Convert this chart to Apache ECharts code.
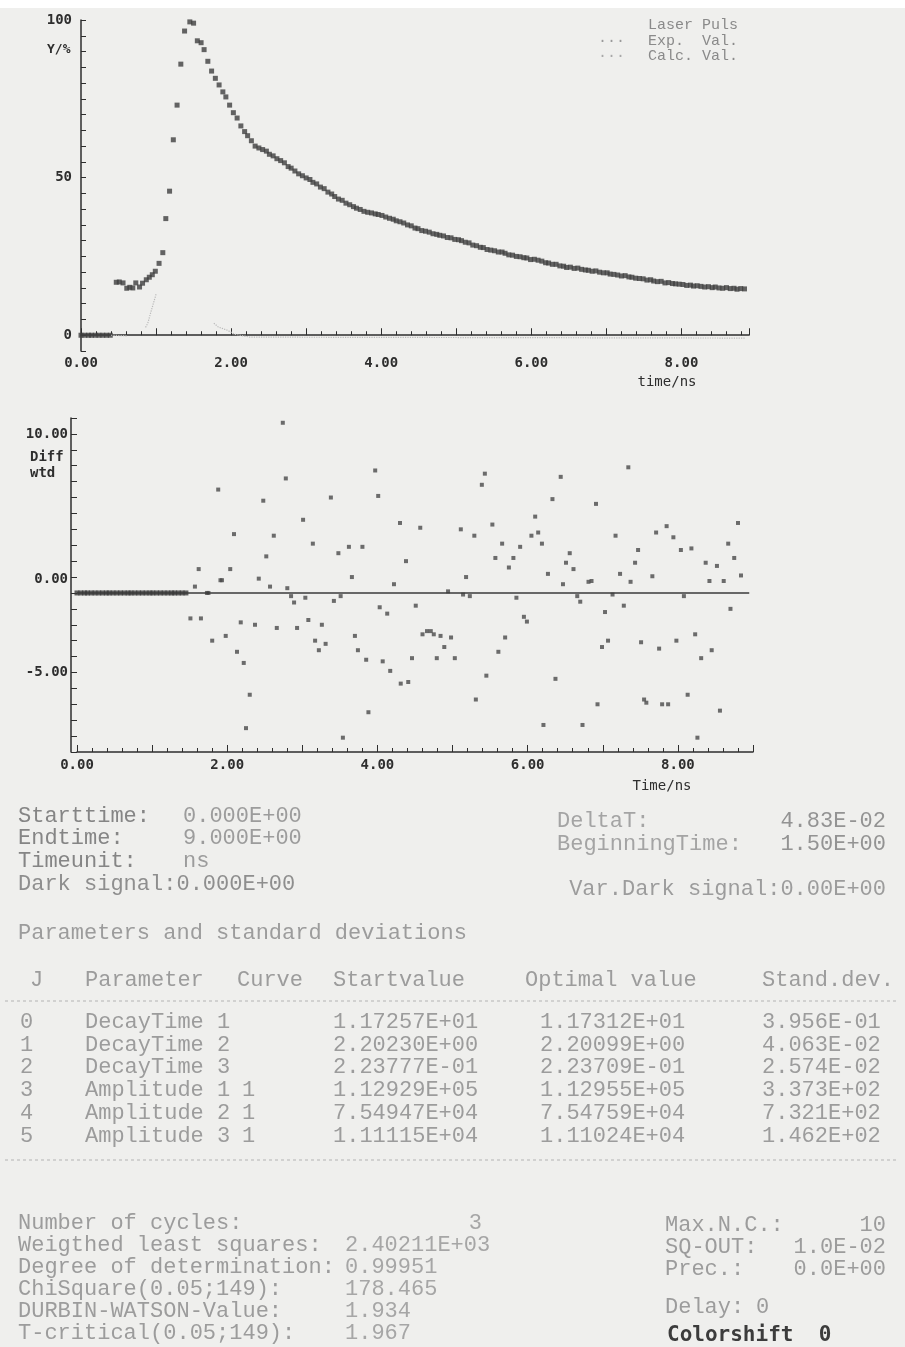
<!DOCTYPE html>
<html>
<head>
<meta charset="utf-8">
<title>Fluorescence decay fit</title>
<script src="https://cdn.jsdelivr.net/npm/echarts@6/dist/echarts.min.js"></script>
<style>
  html, body { margin: 0; padding: 0; background: #efefed; }
  #main { width: 905px; height: 1347px; }
</style>
</head>
<body>
<div id="main"></div>
<script>
// ---- data (time in ns) ----
const expBaseTime = [0.00, 0.05, 0.10, 0.14, 0.19, 0.24, 0.29, 0.34, 0.39];
const expRise = [
  [0.47, 16.8], [0.51, 16.9], [0.56, 16.6], [0.61, 14.9], [0.65, 15.2], [0.69, 15.0],
  [0.73, 16.6], [0.78, 15.3], [0.82, 16.5], [0.87, 17.6], [0.91, 18.4], [0.95, 19.2],
  [0.99, 20.3], [1.04, 22.8], [1.09, 26.2], [1.13, 37.0], [1.18, 45.7], [1.23, 62.0],
  [1.28, 73.0], [1.33, 86.0], [1.38, 96.5], [1.45, 99.4]
];
const expDecay = [
  [1.50, 99.0], [1.55, 93.4], [1.60, 92.8], [1.64, 90.6], [1.69, 86.9], [1.74, 83.8],
  [1.79, 81.5], [1.84, 79.4], [1.89, 77.2], [1.93, 75.6], [1.98, 73.0], [2.03, 70.6],
  [2.08, 68.9], [2.13, 66.4], [2.18, 64.6], [2.22, 63.3], [2.27, 61.7], [2.32, 60.0],
  [2.37, 59.4], [2.42, 58.9], [2.47, 58.4], [2.51, 57.4], [2.56, 56.9], [2.61, 56.0],
  [2.66, 55.4], [2.71, 54.7], [2.76, 53.5], [2.80, 53.0], [2.85, 52.1], [2.90, 51.2],
  [2.95, 50.6], [3.00, 49.9], [3.05, 49.4], [3.09, 48.5], [3.14, 48.0], [3.19, 47.0],
  [3.24, 46.5], [3.29, 45.4], [3.34, 44.8], [3.38, 44.0], [3.43, 43.2], [3.48, 42.8],
  [3.53, 41.9], [3.58, 41.4], [3.63, 40.8], [3.67, 40.3], [3.72, 39.9], [3.77, 39.3],
  [3.82, 39.0], [3.87, 38.8], [3.92, 38.5], [3.96, 38.3], [4.01, 38.0], [4.06, 37.5],
  [4.11, 37.1], [4.16, 36.8], [4.20, 36.3], [4.25, 36.0], [4.30, 35.6], [4.35, 35.0],
  [4.40, 34.7], [4.45, 34.0], [4.49, 33.8], [4.54, 33.2], [4.59, 33.0], [4.64, 32.7],
  [4.69, 32.2], [4.74, 32.0], [4.78, 31.7], [4.83, 31.5], [4.88, 31.0], [4.93, 30.9],
  [4.98, 30.4], [5.03, 30.3], [5.07, 30.0], [5.12, 29.5], [5.17, 29.3], [5.22, 28.6],
  [5.27, 28.4], [5.32, 27.9], [5.36, 27.8], [5.41, 27.2], [5.46, 27.0], [5.51, 26.8],
  [5.56, 26.4], [5.61, 26.4], [5.65, 26.0], [5.70, 25.5], [5.75, 25.4], [5.80, 25.0],
  [5.85, 24.9], [5.90, 24.6], [5.94, 24.5], [5.99, 24.0], [6.04, 24.1], [6.09, 23.8],
  [6.14, 23.5], [6.19, 23.0], [6.23, 22.9], [6.28, 22.5], [6.33, 22.5], [6.38, 22.0],
  [6.43, 21.9], [6.47, 21.5], [6.52, 21.6], [6.57, 21.2], [6.62, 21.3], [6.67, 20.9],
  [6.72, 20.7], [6.76, 20.6], [6.81, 20.3], [6.86, 20.4], [6.91, 20.0], [6.96, 19.8],
  [7.01, 19.8], [7.05, 19.4], [7.10, 19.3], [7.15, 19.1], [7.20, 18.8], [7.25, 18.9],
  [7.30, 18.5], [7.34, 18.4], [7.39, 18.1], [7.44, 18.0], [7.49, 17.9], [7.54, 17.5],
  [7.59, 17.6], [7.63, 17.2], [7.68, 17.0], [7.73, 17.1], [7.78, 16.6], [7.83, 16.7],
  [7.88, 16.4], [7.92, 16.3], [7.97, 16.2], [8.02, 16.1], [8.07, 15.8], [8.12, 15.9],
  [8.16, 15.6], [8.21, 15.7], [8.26, 15.5], [8.31, 15.3], [8.36, 15.4], [8.41, 15.1],
  [8.45, 15.3], [8.50, 15.0], [8.55, 14.9], [8.60, 15.1], [8.65, 14.8], [8.70, 14.9],
  [8.74, 14.6], [8.79, 14.8], [8.84, 14.7]
];
// faint laser pulse trace, '-' breaks the dotted line
const laserPuls = [
  [0.40, 0.0], [0.62, -0.2], [0.70, '-'],
  [0.86, 2.5], [0.89, 3.8], [0.93, 7.3], [1.00, 13.0], [1.40, '-'],
  [1.77, 3.8], [1.83, 2.6], [1.95, 1.6], [2.05, 0.3], [2.25, -0.6], [8.85, -0.9]
];

const residualBaseTime = [
  0.00, 0.05, 0.10, 0.14, 0.19, 0.24, 0.29, 0.34, 0.39, 0.43, 0.48, 0.53, 0.58, 0.63, 0.68, 0.72,
  0.77, 0.82, 0.87, 0.92, 0.97, 1.01, 1.06, 1.11, 1.16, 1.21, 1.26, 1.30, 1.35, 1.40, 1.45
];
const residuals = [
  [1.51, -1.6], [1.57, 0.4], [1.62, 1.5], [1.65, -1.6], [1.73, 0.0], [1.75, 0.0], [1.80, -3.0],
  [1.88, 6.5], [1.91, 0.8], [1.93, 0.8], [1.98, -2.7], [2.04, 1.5], [2.09, 3.7], [2.13, -3.7],
  [2.18, -1.85], [2.22, -4.4], [2.25, -8.5], [2.30, -6.4], [2.37, -2.0], [2.42, 0.9], [2.48, 5.8],
  [2.52, 2.3], [2.57, 0.4], [2.62, 3.6], [2.66, -2.2], [2.74, 10.7], [2.78, 7.2], [2.80, 0.3],
  [2.85, -0.2], [2.89, -0.6], [2.93, -2.2], [3.01, 4.6], [3.04, -0.3], [3.08, -1.7], [3.14, 3.1],
  [3.17, -3.0], [3.22, -3.6], [3.26, -2.0], [3.31, -3.2], [3.38, 6.0], [3.42, -0.5], [3.48, 2.5],
  [3.51, -0.2], [3.54, -9.1], [3.62, 2.9], [3.66, 1.0], [3.70, -2.7], [3.74, -3.6], [3.80, 2.9],
  [3.85, -4.2], [3.88, -7.5], [3.97, 7.7], [4.01, 6.1], [4.03, -0.9], [4.07, -4.3], [4.13, -1.3],
  [4.17, -4.9], [4.22, 0.55], [4.30, 4.4], [4.31, -5.7], [4.38, 2.0], [4.41, -5.6], [4.46, -4.1],
  [4.51, -0.8], [4.57, 4.1], [4.60, -2.6], [4.66, -2.4], [4.71, -2.4], [4.75, -2.6], [4.79, -4.1],
  [4.84, -2.7], [4.89, -3.4], [4.94, 0.1], [4.98, -2.8], [5.03, -4.1], [5.11, 4.0], [5.14, -0.1],
  [5.18, 1.0], [5.23, -0.2], [5.29, 3.6], [5.31, -6.7], [5.39, 6.8], [5.43, 7.5], [5.45, -5.2],
  [5.53, 4.3], [5.57, 2.2], [5.61, -3.7], [5.66, 3.1], [5.70, -2.8], [5.75, 1.6], [5.81, 2.2],
  [5.85, -0.3], [5.90, 2.9], [5.95, -1.5], [5.99, -1.8], [6.05, 3.6], [6.10, 4.8], [6.14, 3.8],
  [6.19, 3.1], [6.21, -8.3], [6.27, 1.2], [6.33, 5.9], [6.37, -5.4], [6.44, 7.3], [6.47, 0.55],
  [6.51, 1.9], [6.56, 2.5], [6.61, 1.5], [6.66, -0.2], [6.70, -0.55], [6.73, -8.3], [6.81, 0.7],
  [6.85, 0.75], [6.91, 5.6], [6.93, -7.0], [6.99, -3.4], [7.03, -1.2], [7.07, -3.0], [7.13, -0.1],
  [7.17, 3.6], [7.23, 1.2], [7.28, -0.8], [7.34, 7.9], [7.37, 0.7], [7.43, 1.9], [7.47, 2.7],
  [7.51, -3.1], [7.55, -6.7], [7.58, -6.9], [7.66, 1.05], [7.71, 3.8], [7.75, -3.5], [7.79, -7.0],
  [7.85, 4.2], [7.87, -7.0], [7.94, 3.5], [7.98, -3.0], [8.04, 2.7], [8.08, -0.2], [8.13, -6.4],
  [8.18, 2.8], [8.23, -2.6], [8.26, -9.1], [8.31, -4.1], [8.37, 1.9], [8.42, 0.75], [8.45, -3.6],
  [8.52, 1.7], [8.56, -7.4], [8.61, 0.75], [8.67, 3.1], [8.70, -1.0], [8.75, 2.2], [8.80, 4.4],
  [8.84, 1.1]
];

// ---- printout text ----
const runInfoLeft = [['Starttime:', '0.000E+00'], ['Endtime:', '9.000E+00'], ['Timeunit:', 'ns']];
const runInfoRight = [['DeltaT:', '4.83E-02'], ['BeginningTime:', '1.50E+00']];
const paramHeader = ['J', 'Parameter', 'Curve', 'Startvalue', 'Optimal value', 'Stand.dev.'];
const paramRows = [
  ['0', 'DecayTime 1', '', '1.17257E+01', '1.17312E+01', '3.956E-01'],
  ['1', 'DecayTime 2', '', '2.20230E+00', '2.20099E+00', '4.063E-02'],
  ['2', 'DecayTime 3', '', '2.23777E-01', '2.23709E-01', '2.574E-02'],
  ['3', 'Amplitude 1', '1', '1.12929E+05', '1.12955E+05', '3.373E+02'],
  ['4', 'Amplitude 2', '1', '7.54947E+04', '7.54759E+04', '7.321E+02'],
  ['5', 'Amplitude 3', '1', '1.11115E+04', '1.11024E+04', '1.462E+02']
];
const fitStats = [
  ['Number of cycles:', ''],
  ['Weigthed least squares:', '2.40211E+03'],
  ['Degree of determination:', '0.99951'],
  ['ChiSquare(0.05;149):', '178.465'],
  ['DURBIN-WATSON-Value:', '1.934'],
  ['T-critical(0.05;149):', '1.967']
];
const fitSettings = [['Max.N.C.:', '10'], ['SQ-OUT:', '1.0E-02'], ['Prec.:', '0.0E+00']];

var chartDom = document.getElementById('main');
var myChart = echarts.init(chartDom);
var option;

const AXIS = '#2e2e2e';
const PRINT = '#9c9c9c';
const plotFont = 'bold 14px "DejaVu Sans Mono"';
const printFont = '22px "Liberation Mono"';

function txt(str, x, y, font, fill, align) {
  return {
    type: 'text', x: x, y: y, silent: true,
    style: { text: str, font: font || printFont, fill: fill || PRINT, align: align || 'left', verticalAlign: 'middle' }
  };
}

const labelStyle = { color: AXIS, fontFamily: 'DejaVu Sans Mono', fontWeight: 'bold', fontSize: 14 };

var graphic = [
  { type: 'rect', shape: { x: 0, y: 0, width: 905, height: 8 }, style: { fill: '#ffffff' }, silent: true },
  // legend
  txt('Laser Puls', 648, 25, '15px "Liberation Mono"', '#8a8a8a'),
  txt('Exp.  Val.', 648, 41, '15px "Liberation Mono"', '#8a8a8a'),
  txt('Calc. Val.', 648, 56, '15px "Liberation Mono"', '#8a8a8a'),
  txt('...', 598, 38, '15px "Liberation Mono"', '#9a9a9a'),
  txt('...', 598, 53, '15px "Liberation Mono"', '#a8a8a8'),
  // axis names
  txt('Y/%', 47, 50, 'bold 13px "DejaVu Sans Mono"', AXIS),
  txt('time/ns', 667, 382, '14px "DejaVu Sans Mono"', AXIS, 'center'),
  txt('Diff', 30, 457, plotFont, AXIS),
  txt('wtd', 30, 473, plotFont, AXIS),
  txt('Time/ns', 662, 786, '14px "DejaVu Sans Mono"', AXIS, 'center'),
  // separators
  { type: 'line', shape: { x1: 5, y1: 1001, x2: 896, y2: 1001 }, style: { stroke: '#b4b4b4', lineDash: [3, 3], lineWidth: 1 }, silent: true },
  { type: 'line', shape: { x1: 5, y1: 1160, x2: 896, y2: 1160 }, style: { stroke: '#b4b4b4', lineDash: [3, 3], lineWidth: 1 }, silent: true }
];

runInfoLeft.forEach(function (r, i) {
  graphic.push(txt(r[0], 18, 816 + i * 22.5, null, '#858585'));
  graphic.push(txt(r[1], 183, 816 + i * 22.5));
});
graphic.push(txt('Dark signal:0.000E+00', 18, 884, null, '#8e8e8e'));
runInfoRight.forEach(function (r, i) {
  graphic.push(txt(r[0], 557, 821 + i * 23, null, '#a4a4a4'));
  graphic.push(txt(r[1], 886, 821 + i * 23, null, '#939393', 'right'));
});
graphic.push(txt('Var.Dark signal:0.00E+00', 886, 889, null, null, 'right'));
graphic.push(txt('Parameters and standard deviations', 18, 933));

const colX = [30, 85, 237, 333, 525, 762];
paramHeader.forEach(function (h, i) {
  graphic.push(txt(h, colX[i], 980));
});
const rowX = [20, 85, 242, 333, 540, 762];
paramRows.forEach(function (row, r) {
  row.forEach(function (cell, c) {
    if (cell) graphic.push(txt(cell, rowX[c], 1022 + r * 22.8));
  });
});

fitStats.forEach(function (r, i) {
  graphic.push(txt(r[0], 18, 1223 + i * 22));
  if (r[1]) graphic.push(txt(r[1], 345, 1223 + i * 22, null, '#a6a6a6'));
});
graphic.push(txt('3', 482, 1223, null, '#a6a6a6', 'right'));
fitSettings.forEach(function (r, i) {
  graphic.push(txt(r[0], 665, 1225 + i * 22));
  graphic.push(txt(r[1], 886, 1225 + i * 22, null, null, 'right'));
});
graphic.push(txt('Delay:', 665, 1307));
graphic.push(txt('0', 756, 1307));
graphic.push(txt('Colorshift  0', 667, 1336, 'bold 21px "DejaVu Sans Mono"', '#3c3c3c'));

// build series data from the arrays
var expData = expBaseTime.map(function (t) { return [t, 0]; }).concat(expRise, expDecay);
var residualBase = residualBaseTime.map(function (t) { return [t, 0]; });

option = {
  animation: false,
  backgroundColor: 'transparent',
  grid: [
    { left: 81, top: 20, width: 668, height: 331 },
    { left: 77, top: 418, width: 676, height: 334 }
  ],
  xAxis: [
    {
      gridIndex: 0, type: 'value', min: 0, max: 8.9, interval: 1,
      axisLine: { lineStyle: { color: AXIS, width: 1.5 } },
      axisTick: { inside: true, length: 7, lineStyle: { color: AXIS } },
      minorTick: { show: true, splitNumber: 5, length: 4, lineStyle: { color: AXIS } },
      splitLine: { show: false },
      axisLabel: Object.assign({
        margin: 5,
        formatter: function (v) { return (v % 2 === 0 && v <= 8) ? v.toFixed(2) : ''; }
      }, labelStyle)
    },
    {
      gridIndex: 1, type: 'value', min: 0, max: 9, interval: 1,
      axisLine: { onZero: false, lineStyle: { color: AXIS, width: 1.5 } },
      axisTick: { inside: true, length: 7, lineStyle: { color: AXIS } },
      minorTick: { show: true, splitNumber: 5, length: 4, lineStyle: { color: AXIS } },
      splitLine: { show: false },
      axisLabel: Object.assign({
        margin: 6,
        formatter: function (v) { return (v % 2 === 0 && v <= 8) ? v.toFixed(2) : ''; }
      }, labelStyle)
    }
  ],
  yAxis: [
    {
      gridIndex: 0, type: 'value', min: -5, max: 100, interval: 5,
      axisLine: { show: true, lineStyle: { color: AXIS, width: 1.5 } },
      axisTick: { inside: true, length: 5, lineStyle: { color: AXIS } },
      splitLine: { show: false },
      axisLabel: Object.assign({
        margin: 9,
        formatter: function (v) { return (v === 0 || v === 50 || v === 100) ? String(v) : ''; }
      }, labelStyle)
    },
    {
      gridIndex: 1, type: 'value', min: -10, max: 11, interval: 1, offset: 6,
      axisLine: { show: true, onZero: false, lineStyle: { color: AXIS, width: 1.5 } },
      axisTick: { inside: true, length: 6, lineStyle: { color: AXIS } },
      splitLine: { show: false },
      axisLabel: Object.assign({
        margin: 3,
        formatter: function (v) {
          if (v === 10) return '10.00';
          if (v === 0) return '{z|0.00}';
          if (v === -5) return '-5.00';
          return '';
        },
        rich: { z: { padding: [0, 0, 28, 0], color: AXIS, fontFamily: 'DejaVu Sans Mono', fontWeight: 'bold', fontSize: 14 } }
      }, labelStyle)
    }
  ],
  series: [
    {
      name: 'Laser Puls', type: 'line', xAxisIndex: 0, yAxisIndex: 0,
      data: laserPuls, showSymbol: false, silent: true,
      lineStyle: { color: '#b9b9b9', width: 1.2, type: 'dotted' }
    },
    {
      name: 'Exp. Val.', type: 'scatter', xAxisIndex: 0, yAxisIndex: 0,
      data: expData, symbol: 'rect', symbolSize: 5,
      itemStyle: { color: '#3f3f3f' }
    },
    {
      name: 'zero', type: 'line', xAxisIndex: 1, yAxisIndex: 1,
      data: [[0, 0], [8.95, 0]], showSymbol: false, silent: true,
      lineStyle: { color: '#3a3a3a', width: 1.5 }
    },
    {
      name: 'Diff base', type: 'scatter', xAxisIndex: 1, yAxisIndex: 1,
      data: residualBase, symbol: 'rect', symbolSize: 5,
      itemStyle: { color: '#3a3a3a' }
    },
    {
      name: 'Diff wtd', type: 'scatter', xAxisIndex: 1, yAxisIndex: 1,
      data: residuals, symbol: 'rect', symbolSize: 4,
      itemStyle: { color: '#4a4a4a' }
    }
  ],
  graphic: graphic
};

option && myChart.setOption(option);
</script>
</body>
</html>
